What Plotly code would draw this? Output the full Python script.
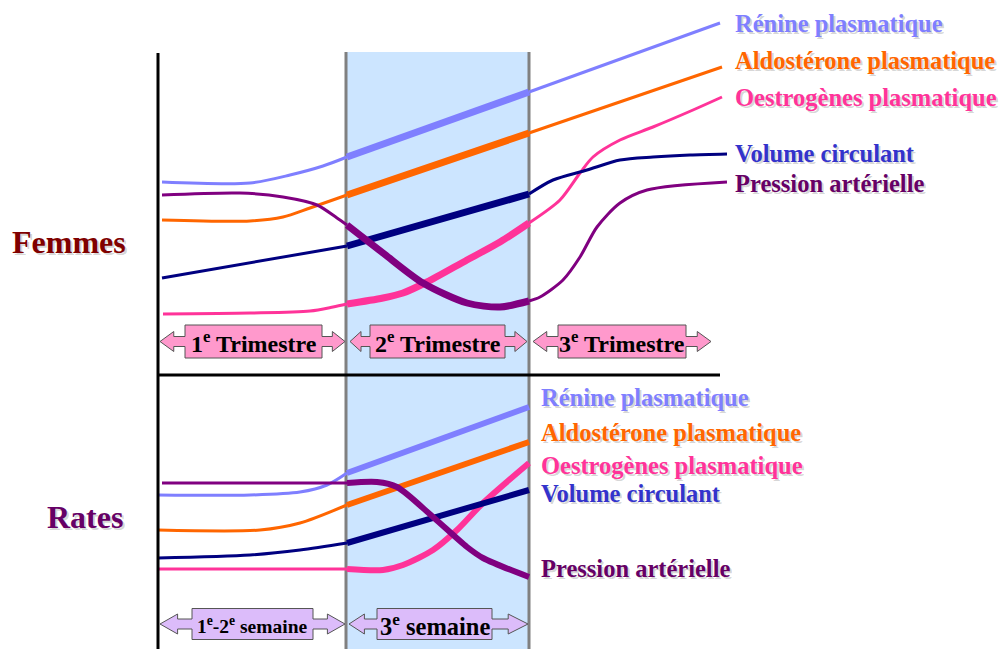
import plotly.graph_objects as go

# ---------------- data (diagram units) ----------------
# Femmes panel: each curve sampled along time axis (x) with level (y, downward)
F_RENINE_X = [162, 250, 290, 323, 347, 529, 720]
F_RENINE_Y = [182, 183, 175, 166, 157, 92, 23]
F_ALDO_X = [162, 250, 283, 310, 347, 529, 722]
F_ALDO_Y = [220, 221, 217, 208, 195, 133, 67]
F_OESTRO_X = [163, 250, 310, 333, 347, 383, 403, 427, 467, 500, 529, 560, 580, 593, 620, 653, 693, 722]
F_OESTRO_Y = [314, 313, 311, 307, 304, 298, 293, 282, 260, 242, 223, 200, 173, 157, 140, 127, 110, 97]
F_VOL_X = [162, 347, 529, 553, 587, 620, 653, 690, 727]
F_VOL_Y = [278, 246, 194, 180, 170, 160, 157, 155, 154]
F_PRESS_X = [162, 240, 283, 317, 337, 347, 383, 423, 467, 500, 529, 540, 563, 580, 597, 620, 647, 727]
F_PRESS_Y = [195, 193, 197, 205, 218, 225, 253, 283, 303, 307, 301, 297, 280, 257, 227, 203, 190, 182]

# Rates panel
R_RENINE_X = [158, 250, 300, 327, 347, 529]
R_RENINE_Y = [495, 495, 492, 485, 473, 407]
R_ALDO_X = [158, 260, 300, 347, 529]
R_ALDO_Y = [530, 530, 523, 505, 442]
R_VOL_X = [158, 250, 300, 347, 529]
R_VOL_Y = [558, 555, 550, 543, 490]
R_OESTRO_X = [157, 347, 383, 403, 433, 457, 483, 529]
R_OESTRO_Y = [569, 569, 570, 565, 550, 530, 503, 463]
R_PRESS_X = [162, 347, 377, 397, 433, 467, 483, 529]
R_PRESS_Y = [483, 483, 482, 487, 517, 547, 558, 577]

SERIES_NAMES = ["Rénine plasmatique", "Aldostérone plasmatique", "Oestrogènes plasmatique",
                "Volume circulant", "Pression artérielle"]
LINE_COLORS = ["#7f7fff", "#ff6600", "#ff3399", "#000080", "#800080"]
TEXT_COLORS = ["#7f7fff", "#ff6600", "#ff3399", "#3333cc", "#660066"]
F_LABEL_Y = [23, 60, 97, 153, 183]
R_LABEL_Y = [397, 432, 465, 493, 568]
TRIMESTRES = ["1<sup>e</sup> Trimestre", "2<sup>e</sup> Trimestre", "3<sup>e</sup> Trimestre"]
SEMAINES = ["1<sup>e</sup>-2<sup>e</sup> semaine", "3<sup>e</sup> semaine"]

# phase boundaries (2e trimestre / 3e semaine)
X_START, X_END = 347, 529

fig = go.Figure()


def add_curve(xs, ys, color, thin, thick):
    segs = [
        ([x for x in xs if x <= X_START], thin),
        ([x for x in xs if X_START <= x <= X_END], thick),
        ([x for x in xs if x >= X_END], thin),
    ]
    lookup = dict(zip(xs, ys))
    for sx, w in segs:
        if len(sx) < 2:
            continue
        fig.add_trace(go.Scatter(x=sx, y=[lookup[v] for v in sx], mode="lines",
                                 line=dict(color=color, width=w, shape="spline", smoothing=0.8),
                                 hoverinfo="skip", showlegend=False))


fem = [(F_RENINE_X, F_RENINE_Y), (F_ALDO_X, F_ALDO_Y), (F_OESTRO_X, F_OESTRO_Y),
       (F_VOL_X, F_VOL_Y), (F_PRESS_X, F_PRESS_Y)]
rat = [(R_RENINE_X, R_RENINE_Y), (R_ALDO_X, R_ALDO_Y), (R_OESTRO_X, R_OESTRO_Y),
       (R_VOL_X, R_VOL_Y), (R_PRESS_X, R_PRESS_Y)]
for (xs, ys), c in zip(fem, LINE_COLORS):
    add_curve(xs, ys, c, 3, 7)
for (xs, ys), c in zip(rat, LINE_COLORS):
    add_curve(xs, ys, c, 3, 6)

shapes = []
# shaded middle phase
shapes.append(dict(type="rect", x0=346, x1=529, y0=52, y1=649, fillcolor="#cce5ff",
                   line=dict(width=0), layer="below"))
for gx in (346, 529):
    shapes.append(dict(type="line", x0=gx, x1=gx, y0=52, y1=649,
                       line=dict(color="#808080", width=3), layer="below"))
shapes.append(dict(type="line", x0=158, x1=158, y0=53, y1=649, line=dict(color="black", width=3)))
shapes.append(dict(type="line", x0=158, x1=720, y0=375, y1=375, line=dict(color="black", width=3)))


def arrow_box(tl, bl, br, tr, yc, bh, hh, sh, fill):
    gl = tl + 0.55 * (bl - tl)
    gr = tr - 0.55 * (tr - br)
    pts = [(tl, yc), (gl, yc - hh), (gl, yc - sh), (bl, yc - sh), (bl, yc - bh),
           (br, yc - bh), (br, yc - sh), (gr, yc - sh), (gr, yc - hh), (tr, yc),
           (gr, yc + hh), (gr, yc + sh), (br, yc + sh), (br, yc + bh), (bl, yc + bh),
           (bl, yc + sh), (gl, yc + sh), (gl, yc + hh)]
    path = "M " + " L ".join(f"{x},{y}" for x, y in pts) + " Z"
    return dict(type="path", path=path, fillcolor=fill, line=dict(color="#555555", width=1))


TRI_BOXES = [(160, 185, 322, 345), (350, 370, 505, 527), (533, 558, 686, 711)]
SEM_BOXES = [(160, 192, 313, 345), (349, 377, 492, 528)]
annotations = []
for (tl, bl, br, tr), txt in zip(TRI_BOXES, TRIMESTRES):
    shapes.append(arrow_box(tl, bl, br, tr, 341.5, 16.5, 10, 5, "#ff99cc"))
    annotations.append(dict(x=(bl + br) / 2, y=342, text=f"<b>{txt}</b>", showarrow=False,
                            xanchor="center", yanchor="middle",
                            font=dict(family="Liberation Serif", size=24, color="black")))
for (tl, bl, br, tr), txt, fs in zip(SEM_BOXES, SEMAINES, (19.5, 24.5)):
    shapes.append(arrow_box(tl, bl, br, tr, 624, 15.5, 10, 5, "#dcbcfa"))
    annotations.append(dict(x=(bl + br) / 2, y=625, text=f"<b>{txt}</b>", showarrow=False,
                            xanchor="center", yanchor="middle",
                            font=dict(family="Liberation Serif", size=fs, color="black")))


def shadowed(x, y, text, color, size, xanchor):
    # soft grey drop shadow drawn first, then the coloured label on top
    annotations.append(dict(x=x + 2, y=y + 2, text=f"<b>{text}</b>", showarrow=False,
                            xanchor=xanchor, yanchor="middle",
                            font=dict(family="Liberation Serif", size=size,
                                      color="rgba(0,0,0,0.18)")))
    annotations.append(dict(x=x, y=y, text=f"<b>{text}</b>", showarrow=False,
                            xanchor=xanchor, yanchor="middle",
                            font=dict(family="Liberation Serif", size=size, color=color)))


for name, col, yl in zip(SERIES_NAMES, TEXT_COLORS, F_LABEL_Y):
    shadowed(733, yl, name, col, 24.5, "left")
for name, col, yl in zip(SERIES_NAMES, TEXT_COLORS, R_LABEL_Y):
    shadowed(539, yl, name, col, 24.5, "left")
shadowed(69, 242, "Femmes", "#800000", 32, "center")
shadowed(85, 517, "Rates", "#660066", 32, "center")

fig.update_layout(
    width=1001, height=649,
    margin=dict(l=0, r=0, t=0, b=0),
    paper_bgcolor="white", plot_bgcolor="white",
    xaxis=dict(range=[0, 1001], visible=False, fixedrange=True),
    yaxis=dict(range=[649, 0], visible=False, fixedrange=True),
    shapes=shapes, annotations=annotations, showlegend=False,
)
fig.write_html("out.html", config={"displayModeBar": False},
               post_script="document.body.style.margin='0';document.body.style.overflow='hidden';")
